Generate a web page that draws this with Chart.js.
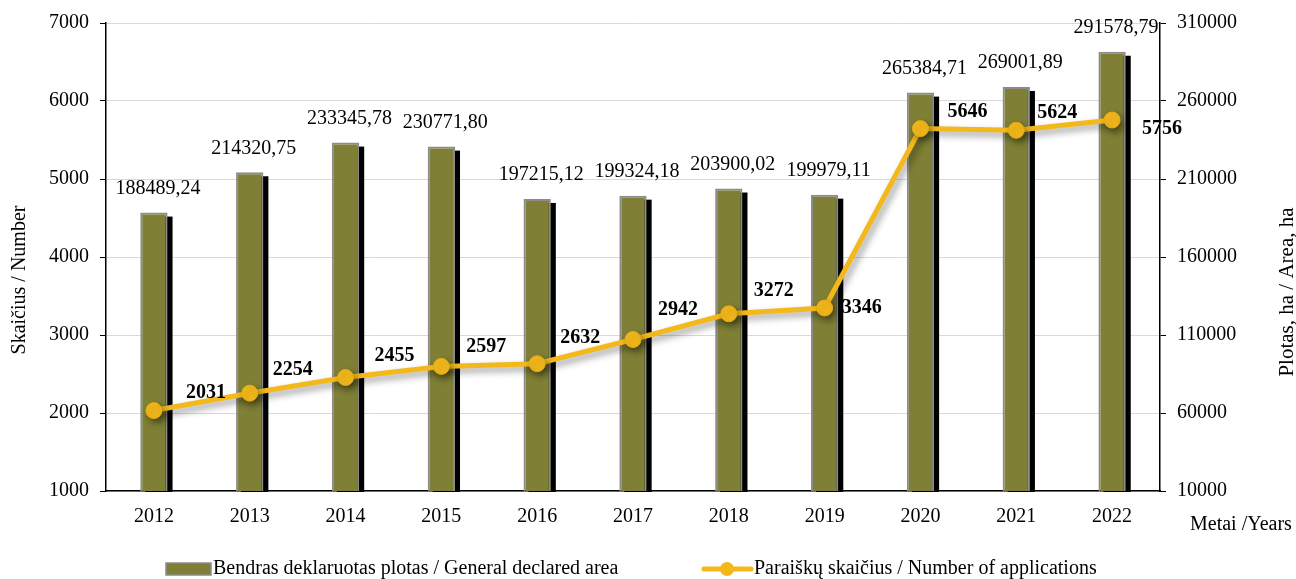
<!DOCTYPE html>
<html>
<head>
<meta charset="utf-8">
<script src="https://cdn.jsdelivr.net/npm/chart.js@4"></script>
<style>
  html, body { margin: 0; padding: 0; background: #ffffff; }
  #c { display: block; }
</style>
</head>
<body>
<canvas id="c" width="1296" height="579"></canvas>
<script>
// ---- data ----
const years = ['2012', '2013', '2014', '2015', '2016', '2017', '2018', '2019', '2020', '2021', '2022'];
const declaredArea = [188489.24, 214320.75, 233345.78, 230771.80, 197215.12, 199324.18, 203900.02, 199979.11, 265384.71, 269001.89, 291578.79];
const applications = [2031, 2254, 2455, 2597, 2632, 2942, 3272, 3346, 5646, 5624, 5756];
const areaSeriesName = 'Bendras deklaruotas plotas / General declared area';
const countSeriesName = 'Paraiškų skaičius / Number of applications';
const leftTitle = 'Skaičius / Number';
const rightTitle = 'Plotas, ha / Area, ha';
const xTitle = 'Metai /Years';

// ---- label placement (styling) ----
const countLabelOffsets = [[52,-18],[43,-23],[49,-22],[45,-20],[43,-26],[45,-30],[45,-23],[37,0],[47,-17],[41,-17],[50,9]];

const FONT = "'Liberation Serif', 'Times New Roman', serif";
const OLIVE = '#7f7f35';
const OLIVE_BORDER = '#8c8c8c';
const YELLOW = '#f3b81b';

function fmtArea(v) { return v.toFixed(2).replace('.', ','); }

const shadowPlugin = {
  id: 'shadows',
  beforeDatasetDraw(chart, args) {
    const ctx = chart.ctx;
    const ds = chart.data.datasets[args.index];
    if (ds.type === 'bar') {
      const meta = chart.getDatasetMeta(args.index);
      const bottom = chart.chartArea.bottom;
      ctx.save();
      ctx.fillStyle = '#000000';
      meta.data.forEach(el => {
        const p = el.getProps(['x', 'y', 'width'], true);
        const top = p.y + 4;
        ctx.fillRect(p.x - p.width / 2 + 5, top, p.width, bottom - top + 1);
      });
      ctx.restore();
    } else if (ds.type === 'line') {
      ctx.save();
      ctx.shadowColor = 'rgba(0,0,0,0.4)';
      ctx.shadowBlur = 7;
      ctx.shadowOffsetX = 3;
      ctx.shadowOffsetY = 4;
    }
  },
  afterDatasetDraw(chart, args) {
    const ds = chart.data.datasets[args.index];
    if (ds.type === 'line') chart.ctx.restore();
  }
};

const labelsPlugin = {
  id: 'labelsAndLegend',
  afterDraw(chart) {
    const ctx = chart.ctx;
    ctx.save();
    // area labels
    const barMeta = chart.getDatasetMeta(1);
    ctx.font = '20px ' + FONT;
    ctx.fillStyle = '#000';
    ctx.textAlign = 'center';
    ctx.textBaseline = 'middle';
    barMeta.data.forEach((el, i) => {
      const p = el.getProps(['x', 'y'], true);
      ctx.fillText(fmtArea(declaredArea[i]), p.x + 4, p.y - 24);
    });
    // count labels
    const lineMeta = chart.getDatasetMeta(0);
    ctx.font = 'bold 20px ' + FONT;
    lineMeta.data.forEach((el, i) => {
      const p = el.getProps(['x', 'y'], true);
      const o = countLabelOffsets[i];
      ctx.fillText(String(applications[i]), p.x + o[0], p.y + o[1]);
    });
    // axis titles
    ctx.font = '20px ' + FONT;
    ctx.save();
    ctx.translate(20, 280);
    ctx.rotate(-Math.PI / 2);
    ctx.fillText(leftTitle, 0, 0);
    ctx.restore();
    ctx.font = '21px ' + FONT;
    ctx.save();
    ctx.translate(1287, 292);
    ctx.rotate(-Math.PI / 2);
    ctx.fillText(rightTitle, 0, 0);
    ctx.restore();
    ctx.font = '20px ' + FONT;
    ctx.textAlign = 'left';
    ctx.fillText(xTitle, 1190, 525);
    // legend
    const ly = 569;
    ctx.fillStyle = OLIVE;
    ctx.fillRect(166, 563, 45, 12);
    ctx.strokeStyle = OLIVE_BORDER;
    ctx.lineWidth = 1.5;
    ctx.strokeRect(166, 563, 45, 12);
    ctx.fillStyle = '#000';
    ctx.fillText(areaSeriesName, 213, ly);
    ctx.strokeStyle = YELLOW;
    ctx.lineWidth = 5;
    ctx.lineCap = 'round';
    ctx.beginPath();
    ctx.moveTo(704, ly);
    ctx.lineTo(751, ly);
    ctx.stroke();
    ctx.beginPath();
    ctx.fillStyle = YELLOW;
    ctx.arc(727, ly, 7, 0, Math.PI * 2);
    ctx.fill();
    ctx.fillStyle = '#000';
    ctx.fillText(countSeriesName, 754, ly);
    ctx.restore();
  }
};

Chart.defaults.font.family = FONT;
Chart.defaults.font.size = 20;
Chart.defaults.color = '#000';

new Chart(document.getElementById('c'), {
  data: {
    labels: years,
    datasets: [
      {
        type: 'line',
        label: countSeriesName,
        data: applications,
        yAxisID: 'y',
        borderColor: YELLOW,
        borderWidth: 5,
        pointRadius: 8,
        pointBackgroundColor: YELLOW,
        pointBorderColor: '#e8ac10',
        pointBorderWidth: 1,
        tension: 0,
        order: 0
      },
      {
        type: 'bar',
        label: areaSeriesName,
        data: declaredArea,
        yAxisID: 'y1',
        backgroundColor: OLIVE,
        borderColor: OLIVE_BORDER,
        borderWidth: 2,
        barPercentage: 0.285,
        categoryPercentage: 1,
        order: 1
      }
    ]
  },
  options: {
    responsive: false,
    animation: false,
    devicePixelRatio: 1,
    layout: { padding: { top: 20, left: 0, right: 0, bottom: 0 } },
    plugins: { legend: { display: false }, tooltip: { enabled: false } },
    scales: {
      x: {
        offset: true,
        grid: { display: false, drawTicks: false },
        border: { display: true, color: '#000', width: 1.5 },
        ticks: { padding: 14, font: { size: 20 }, color: '#000' },
        afterFit(s) { s.height = 88; }
      },
      y: {
        position: 'left',
        min: 1000, max: 7000,
        ticks: { stepSize: 1000, padding: 11, font: { size: 20 }, color: '#000', callback: v => String(v) },
        grid: { color: '#d9d9d9', lineWidth: 1, tickColor: '#000', tickLength: 6 },
        border: { display: true, color: '#000', width: 1.5 },
        afterFit(s) { s.width = 106; }
      },
      y1: {
        position: 'right',
        min: 10000, max: 310000,
        ticks: { stepSize: 50000, padding: 11, font: { size: 20 }, color: '#000', callback: v => String(v) },
        grid: { drawOnChartArea: false, tickColor: '#000', tickLength: 6 },
        border: { display: true, color: '#000', width: 1.5 },
        afterFit(s) { s.width = 136; }
      }
    }
  },
  plugins: [shadowPlugin, labelsPlugin]
});
</script>
</body>
</html>
